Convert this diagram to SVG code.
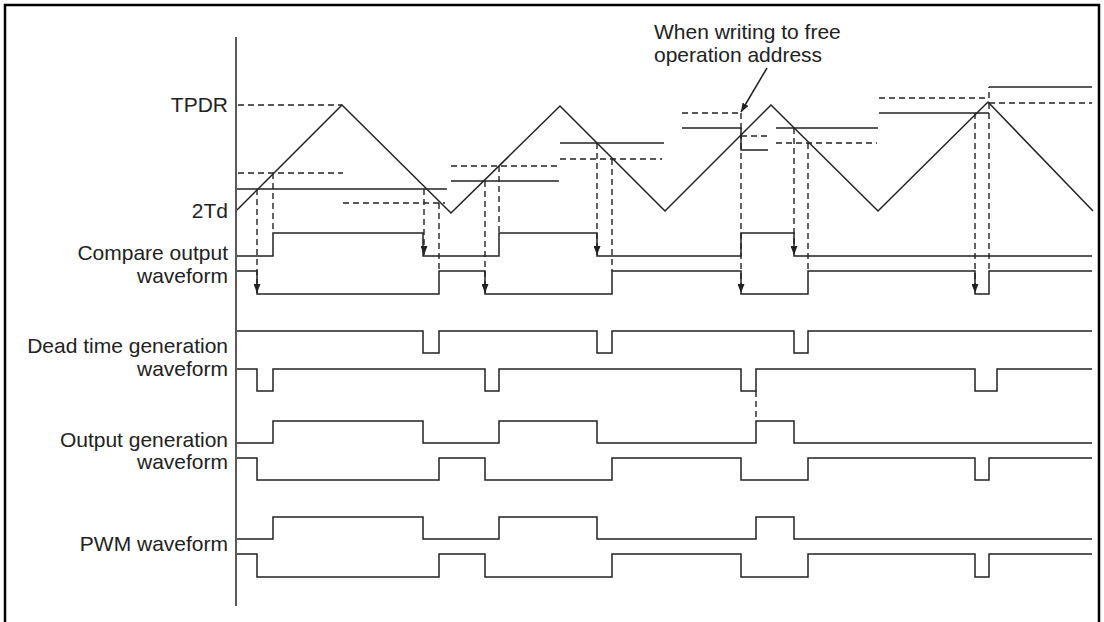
<svg xmlns="http://www.w3.org/2000/svg" width="1104" height="622" viewBox="0 0 1104 622">
<style>
.ln{fill:none;stroke:#222;stroke-width:1.5}
.ds{fill:none;stroke:#222;stroke-width:1.4;stroke-dasharray:6 4}
.tx{font-family:"Liberation Sans",Arial,sans-serif;font-size:21px;fill:#222}
.r{text-anchor:end}
</style>
<defs>
<marker id="ah" markerUnits="userSpaceOnUse" markerWidth="9" markerHeight="7" refX="9" refY="3.5" orient="auto">
<path d="M0,0 L9,3.5 L0,7 z" fill="#222"/>
</marker>
</defs>
<rect x="5" y="5" width="1094" height="630" fill="#fff" stroke="#000" stroke-width="2.5"/>
<g id="axis"><path class="ln" d="M236,37 V606"/></g>
<g id="labels">
<text class="tx r" x="228" y="112">TPDR</text>
<text class="tx r" x="228" y="218">2Td</text>
<text class="tx r" x="228" y="260">Compare output</text>
<text class="tx r" x="228" y="283">waveform</text>
<text class="tx r" x="228" y="353">Dead time generation</text>
<text class="tx r" x="228" y="376">waveform</text>
<text class="tx r" x="228" y="447">Output generation</text>
<text class="tx r" x="228" y="469">waveform</text>
<text class="tx r" x="228" y="551">PWM waveform</text>
<text class="tx" x="654" y="39">When writing to free</text>
<text class="tx" x="654" y="62">operation address</text>
</g>
<g id="carrier">
<path class="ln" d="M237,210 L342,105 L451,213 L560,106 L665,211 L771,105 L878,211 L988,102 L1093,211"/>
</g>
<g id="levels">
<path class="ds" d="M238,105 H342"/>
<path class="ln" d="M237,189 H447"/>
<path class="ds" d="M238,173 H343"/>
<path class="ds" d="M343,203 H445"/>
<path class="ds" d="M451,166 H559"/>
<path class="ln" d="M451,181 H559"/>
<path class="ln" d="M560,143 H664"/>
<path class="ds" d="M560,159 H662"/>
<path class="ds" d="M682,113 H741"/>
<path class="ln" d="M682,128 H741 V150 H768"/>
<path class="ds" d="M741,136 H767"/>
<path class="ln" d="M776,128 H878"/>
<path class="ds" d="M776,143 H877"/>
<path class="ds" d="M879,98 H989 V87"/>
<path class="ln" d="M879,113 H989"/>
<path class="ln" d="M989,87 H1092"/>
<path class="ds" d="M989,103 H1092"/>
</g>
<g id="connectors">
<path class="ds" d="M257,189 V293" marker-end="url(#ah)"/>
<path class="ds" d="M273,173 V233"/>
<path class="ds" d="M424,189 V255" marker-end="url(#ah)"/>
<path class="ds" d="M439,203 V271"/>
<path class="ds" d="M485,181 V293" marker-end="url(#ah)"/>
<path class="ds" d="M499,166 V233"/>
<path class="ds" d="M597,143 V255" marker-end="url(#ah)"/>
<path class="ds" d="M612,159 V271"/>
<path class="ds" d="M741,113 V293" marker-end="url(#ah)"/>
<path class="ds" d="M756,391 V421"/>
<path class="ds" d="M794,128 V255" marker-end="url(#ah)"/>
<path class="ds" d="M808,143 V271"/>
<path class="ds" d="M975,113 V293" marker-end="url(#ah)"/>
<path class="ds" d="M989,103 V271"/>
<path class="ln" d="M767,68 L741,112" marker-end="url(#ah)"/>
</g>
<g id="compare-output">
<path class="ln" d="M237,256 H273 V233 H423 V256 H499 V233 H597 V256 H741 V233 H794 V256 H1092"/>
<path class="ln" d="M237,271 H257 V294 H439 V271 H485 V294 H612 V271 H741 V294 H808 V271 H975 V294 H989 V271 H1092"/>
</g>
<g id="dead-time">
<path class="ln" d="M237,331 H423 V353 H439 V331 H597 V353 H612 V331 H794 V353 H808 V331 H1092"/>
<path class="ln" d="M237,369 H257 V391 H273 V369 H485 V391 H499 V369 H741 V391 H756 V369 H975 V391 H997 V369 H1092"/>
</g>
<g id="output-generation">
<path class="ln" d="M237,443 H273 V421 H423 V443 H499 V421 H597 V443 H756 V421 H794 V443 H1092"/>
<path class="ln" d="M237,458 H257 V480 H439 V458 H485 V480 H612 V458 H741 V480 H808 V458 H975 V480 H989 V458 H1092"/>
</g>
<g id="pwm">
<path class="ln" d="M237,539 H273 V517 H423 V539 H499 V517 H597 V539 H756 V517 H794 V539 H1092"/>
<path class="ln" d="M237,554 H257 V577 H439 V554 H485 V577 H612 V554 H741 V577 H808 V554 H975 V577 H989 V554 H1092"/>
</g>
</svg>
